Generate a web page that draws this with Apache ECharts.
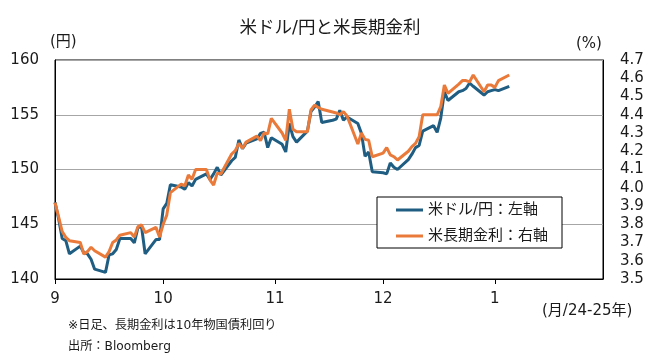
<!DOCTYPE html>
<html><head><meta charset="utf-8">
<script src="https://cdn.jsdelivr.net/npm/echarts@6/dist/echarts.min.js"></script>
<style>html,body{margin:0;padding:0;background:#fff}#c{width:660px;height:356px}</style>
</head><body><div id="c"></div>
<script>
// USD/JPY (left axis)
const fxDates = ['2024-09-02','2024-09-03','2024-09-04','2024-09-05','2024-09-06','2024-09-09','2024-09-10','2024-09-11','2024-09-12','2024-09-13','2024-09-16','2024-09-17','2024-09-18','2024-09-19','2024-09-20','2024-09-23','2024-09-24','2024-09-25','2024-09-26','2024-09-27','2024-09-30','2024-10-01','2024-10-02','2024-10-03','2024-10-04','2024-10-07','2024-10-08','2024-10-09','2024-10-10','2024-10-11','2024-10-14','2024-10-15','2024-10-16','2024-10-17','2024-10-18','2024-10-21','2024-10-22','2024-10-23','2024-10-24','2024-10-25','2024-10-28','2024-10-29','2024-10-30','2024-10-31','2024-11-01','2024-11-04','2024-11-05','2024-11-06','2024-11-07','2024-11-08','2024-11-11','2024-11-12','2024-11-13','2024-11-14','2024-11-15','2024-11-18','2024-11-19','2024-11-20','2024-11-21','2024-11-22','2024-11-25','2024-11-26','2024-11-27','2024-11-28','2024-11-29','2024-12-02','2024-12-03','2024-12-04','2024-12-05','2024-12-06','2024-12-09','2024-12-10','2024-12-11','2024-12-12','2024-12-13','2024-12-16','2024-12-17','2024-12-18','2024-12-19','2024-12-20','2024-12-23','2024-12-24','2024-12-25','2024-12-26','2024-12-27','2024-12-30','2024-12-31','2025-01-01','2025-01-02','2025-01-03','2025-01-06'];
const fxValues = [147.0,145.5,143.7,143.5,142.3,143.0,142.4,142.3,141.8,140.9,140.6,142.2,142.3,142.7,143.7,143.7,143.3,144.7,144.8,142.3,143.6,143.6,146.4,146.9,148.6,148.4,148.2,148.8,148.5,149.1,149.6,149.1,149.6,150.2,149.5,150.8,151.1,152.7,151.9,152.4,152.8,153.3,153.4,152.0,152.9,152.3,151.6,154.2,153.0,152.5,153.5,155.3,155.7,156.2,154.3,154.5,154.6,155.4,154.5,154.8,154.2,153.3,151.2,151.6,149.8,149.7,149.6,150.6,150.2,150.0,150.9,151.4,152.0,152.2,153.5,154.0,153.4,154.7,157.1,156.3,157.1,157.2,157.4,157.9,157.6,156.8,157.1,157.2,157.3,157.2,157.6];
// US 10y yield (right axis)
const yieldDates = ['2024-09-02','2024-09-03','2024-09-04','2024-09-05','2024-09-06','2024-09-09','2024-09-10','2024-09-11','2024-09-12','2024-09-13','2024-09-16','2024-09-17','2024-09-18','2024-09-19','2024-09-20','2024-09-23','2024-09-24','2024-09-25','2024-09-26','2024-09-27','2024-09-30','2024-10-01','2024-10-02','2024-10-03','2024-10-04','2024-10-07','2024-10-08','2024-10-09','2024-10-10','2024-10-11','2024-10-14','2024-10-15','2024-10-16','2024-10-17','2024-10-18','2024-10-21','2024-10-22','2024-10-23','2024-10-24','2024-10-25','2024-10-28','2024-10-29','2024-10-30','2024-10-31','2024-11-01','2024-11-04','2024-11-05','2024-11-06','2024-11-07','2024-11-08','2024-11-11','2024-11-12','2024-11-13','2024-11-14','2024-11-15','2024-11-18','2024-11-19','2024-11-20','2024-11-21','2024-11-22','2024-11-25','2024-11-26','2024-11-27','2024-11-28','2024-11-29','2024-12-02','2024-12-03','2024-12-04','2024-12-05','2024-12-06','2024-12-09','2024-12-10','2024-12-11','2024-12-12','2024-12-13','2024-12-16','2024-12-17','2024-12-18','2024-12-19','2024-12-20','2024-12-23','2024-12-24','2024-12-25','2024-12-26','2024-12-27','2024-12-30','2024-12-31','2025-01-01','2025-01-02','2025-01-03','2025-01-06'];
const yieldValues = [3.918,3.84,3.76,3.728,3.71,3.70,3.637,3.65,3.674,3.655,3.62,3.65,3.70,3.714,3.74,3.754,3.73,3.787,3.796,3.754,3.783,3.73,3.80,3.85,3.973,4.02,4.01,4.07,4.046,4.10,4.10,4.042,4.015,4.08,4.075,4.185,4.203,4.243,4.216,4.25,4.283,4.258,4.30,4.295,4.38,4.30,4.26,4.43,4.32,4.307,4.307,4.426,4.453,4.44,4.43,4.415,4.41,4.40,4.417,4.393,4.24,4.30,4.265,4.26,4.17,4.19,4.22,4.18,4.17,4.152,4.20,4.225,4.243,4.28,4.40,4.40,4.40,4.444,4.563,4.517,4.568,4.587,4.587,4.58,4.618,4.526,4.563,4.563,4.55,4.587,4.618];
const axisStart = '2024-09-02';
const axisEnd = '2025-02-01';
const monthTicks = ['2024-09-02','2024-10-02','2024-11-02','2024-12-02','2025-01-02'];
const seriesNames = ['米ドル/円：左軸','米長期金利：右軸'];

function dayNum(s){const p=s.split('-').map(Number);return Math.round(Date.UTC(p[0],p[1]-1,p[2])/86400000);}
const d0 = dayNum(axisStart);
function off(s){return dayNum(s)-d0;}
const tickOffsets = monthTicks.map(off);
const FONT = "'DejaVu Sans','Noto Sans CJK JP',sans-serif";
const TXT = '#1a1a1a';
const chart = echarts.init(document.getElementById('c'), null, {renderer:'canvas'});
chart.setOption({
  animation:false,
  backgroundColor:'#fff',
  textStyle:{fontFamily:FONT,color:TXT},
  title:{text:'米ドル/円と米長期金利',left:'center',top:18,padding:0,
    textStyle:{fontSize:17.5,fontWeight:'normal',color:TXT,fontFamily:FONT,lineHeight:20}},
  grid:{left:55,top:60,width:548,height:219,show:true,borderColor:'#000',borderWidth:1,containLabel:false},
  legend:{left:377,top:197,orient:'vertical',backgroundColor:'#fff',borderColor:'#000',borderWidth:1,
    padding:[5,14,4,19],itemGap:10,itemWidth:27,itemHeight:3,icon:'rect',
    textStyle:{fontSize:15,color:TXT,fontFamily:FONT,lineHeight:16},data:seriesNames},
  xAxis:{type:'value',min:0,max:off(axisEnd),
    axisLine:{show:true,lineStyle:{color:'#000',width:1}},
    axisTick:{show:true,length:5,lineStyle:{color:'#000'},customValues:tickOffsets},
    axisLabel:{customValues:tickOffsets,fontSize:15,color:TXT,margin:13,fontFamily:FONT,
      formatter:function(v){const i=tickOffsets.indexOf(v);return i<0?'':String(Number(monthTicks[i].split('-')[1]));}},
    splitLine:{show:false}},
  yAxis:[
    {type:'value',min:140,max:160,interval:5,
      axisLine:{show:true,lineStyle:{color:'#000'}},axisTick:{show:false},
      axisLabel:{fontSize:15,color:TXT,margin:16,fontFamily:FONT},
      splitLine:{show:true,lineStyle:{color:'#a6a6a6',width:1}}},
    {type:'value',min:3.5,max:4.7,interval:0.1,
      axisLine:{show:true,lineStyle:{color:'#000'}},axisTick:{show:false},
      axisLabel:{fontSize:15,color:TXT,margin:17,fontFamily:FONT,formatter:function(v){return v.toFixed(1);}},
      splitLine:{show:false}}
  ],
  graphic:[
    {type:'text',x:50,y:42,style:{text:'(円)',fontSize:15,fontFamily:FONT,fill:TXT,align:'left',verticalAlign:'middle'}},
    {type:'text',x:576,y:44,style:{text:'(%)',fontSize:15,fontFamily:FONT,fill:TXT,align:'left',verticalAlign:'middle'}},
    {type:'text',x:542,y:311,style:{text:'(月/24-25年)',fontSize:15,fontFamily:FONT,fill:TXT,align:'left',verticalAlign:'middle'}},
    {type:'text',x:68,y:326,style:{text:'※日足、長期金利は10年物国債利回り',fontSize:12.2,fontFamily:FONT,fill:TXT,align:'left',verticalAlign:'middle'}},
    {type:'text',x:68,y:347,style:{text:'出所：Bloomberg',fontSize:12.2,fontFamily:FONT,fill:TXT,align:'left',verticalAlign:'middle'}}
  ],
  series:[
    {name:seriesNames[0],type:'line',yAxisIndex:0,showSymbol:false,symbol:'none',
      lineStyle:{color:'#1F5E82',width:3},itemStyle:{color:'#1F5E82'},
      data:fxDates.map(function(d,i){return [off(d),fxValues[i]];})},
    {name:seriesNames[1],type:'line',yAxisIndex:1,showSymbol:false,symbol:'none',
      lineStyle:{color:'#E97A3A',width:3},itemStyle:{color:'#E97A3A'},
      data:yieldDates.map(function(d,i){return [off(d),yieldValues[i]];})}
  ]
});
</script></body></html>
